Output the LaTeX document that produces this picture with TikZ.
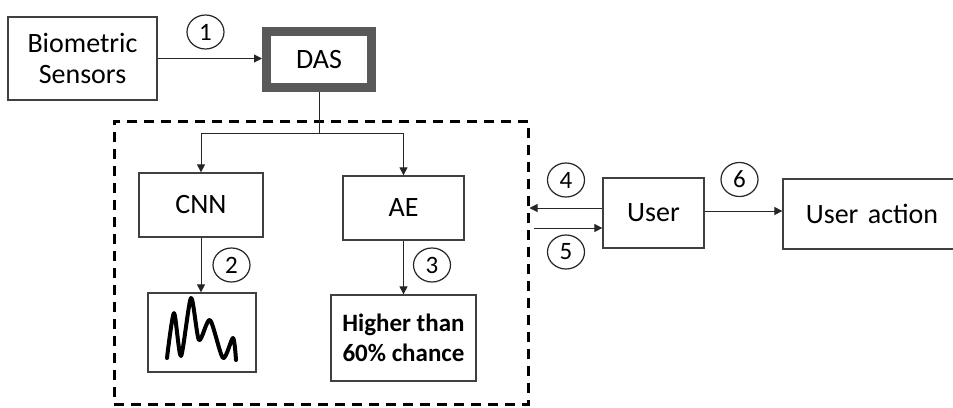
\documentclass[tikz,border=0pt]{standalone}
\usepackage{fontspec}
\setmainfont{Carlito}
\usetikzlibrary{arrows.meta,calc,shapes.geometric}

\tikzset{
  box/.style={draw=black!75, line width=1.3pt, rectangle, inner sep=0pt,
    font=\fontsize{28}{34}\selectfont, text=black},
  dasbox/.style={draw=black!65, line width=9pt, rectangle, inner sep=0pt,
    font=\fontsize{28}{34}\selectfont, text=black},
  frame/.style={draw=black, line width=3pt, dash pattern=on 10pt off 7pt, rectangle, inner sep=0pt},
  num/.style={draw=black!85, line width=1.2pt, ellipse, inner sep=0pt,
    minimum width=37pt, minimum height=34pt, font=\fontsize{25}{28}\selectfont},
  arr/.style={draw=black!85, line width=1pt, -{Triangle[length=8pt,width=8pt]}},
  link/.style={draw=black!85, line width=1pt},
  wave/.style={line width=4pt, line cap=round, line join=round}
}

\begin{document}
\begin{tikzpicture}[x=1pt, y=-1pt]
  \useasboundingbox (0,0) rectangle (953,407);
  \clip (0,0) rectangle (953,407);

  % top row
  \node[box, minimum width=149pt, minimum height=83pt, align=center] (bio) at (82.5,58.5) {Biometric\\[-3pt]Sensors};
  \node[dasbox, minimum width=105pt, minimum height=56pt] (das) at (319,59.5) {DAS};

  % dashed processing block
  \node[frame, minimum width=414pt, minimum height=283pt] (blk) at (321,262.5) {};
  \node[box, minimum width=124pt, minimum height=64pt] (cnn) at (201,205) {CNN};
  \node[box, minimum width=121pt, minimum height=64pt] (ae) at (403.5,208) {AE};
  \node[box, minimum width=108pt, minimum height=79pt] (sig) at (202,332.5) {};
  \node[box, minimum width=145pt, minimum height=86pt, align=center,
        font=\fontsize{25}{30}\selectfont\bfseries] (hi) at (403.5,338) {Higher than\\60\% chance};

  % signal trace inside the plot box
  \draw[wave] plot[smooth, tension=0.45] coordinates {
    (167,358) (174,313) (181,356) (191,298) (199,340) (210,320) (223,358) (233,338) (236,360)};

  % user side
  \node[box, minimum width=178pt, minimum height=70pt, text width=168pt, align=center] (act) at (872,214) {User action};
  \node[box, minimum width=101pt, minimum height=70pt] (user) at (653.5,213) {User};

  % step markers
  \node[num] (n1) at (205.5,32) {1};
  \node[num] (n2) at (231.5,265) {2};
  \node[num] (n3) at (432,265) {3};
  \node[num] (n4) at (566,180) {4};
  \node[num] (n5) at (566,252) {5};
  \node[num] (n6) at (739.5,179.5) {6};

  % connectors
  \draw[arr] (bio.east) -- (bio.east -| das.west);
  \draw[link] (das.south) -- ++(0,41) coordinate (split);
  \draw[arr] (split) -| (cnn.north);
  \draw[arr] (split) -| (ae.north);
  \draw[arr] (cnn.south) -- (cnn.south |- sig.north);
  \draw[arr] (ae.south) -- (hi.north);

  \coordinate (u4) at ([yshift=5pt]user.west);
  \coordinate (u5) at ([yshift=-15pt]user.west);
  \coordinate (u6) at ([yshift=2pt]user.east);
  \draw[arr] (u4) -- (u4 -| blk.east);
  \draw[arr] ($(u5 -| blk.east)+(4,0)$) -- (u5);
  \draw[arr] (u6) -- (u6 -| act.west);
\end{tikzpicture}
\end{document}
